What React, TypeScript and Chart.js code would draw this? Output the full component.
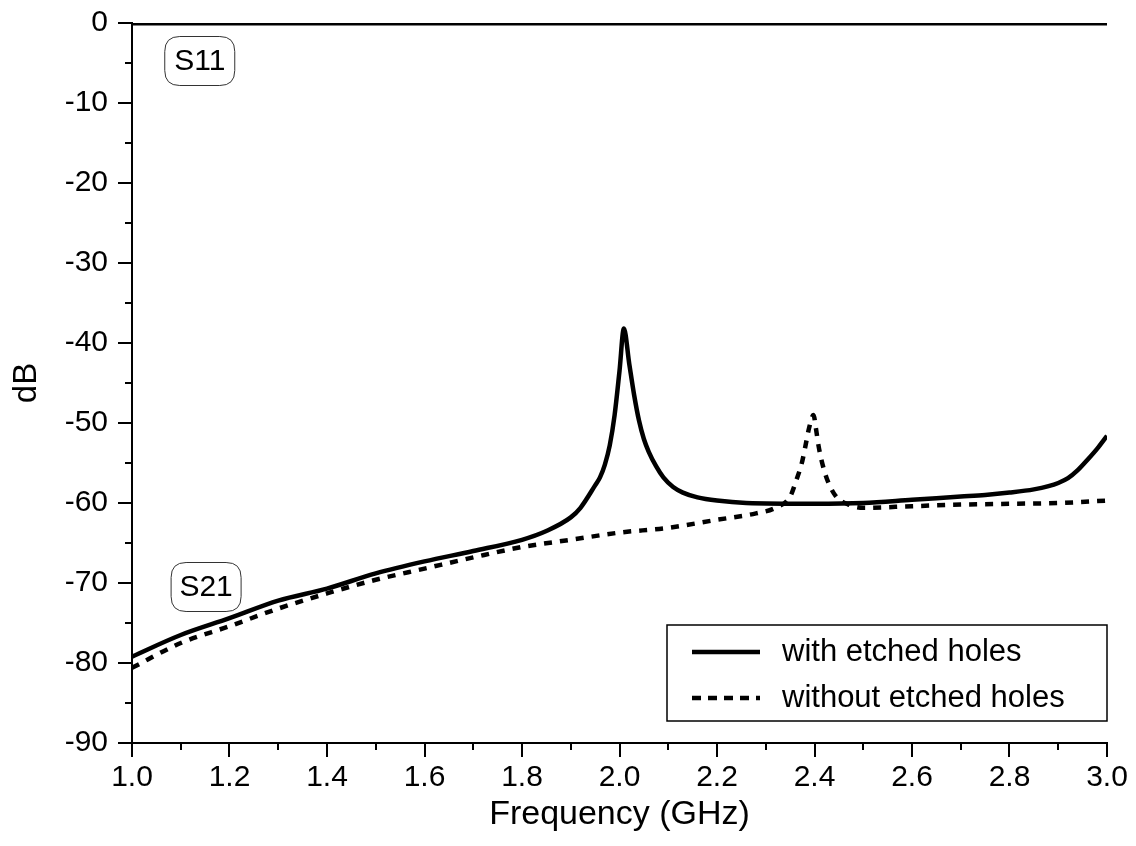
import React, { useEffect, useRef } from 'react';
import { Chart, registerables } from 'chart.js';

Chart.register(...registerables);

// Frequency (GHz) and S21 (dB) – with etched holes
const freqWith = [1.0, 1.1, 1.2, 1.3, 1.4, 1.5, 1.6, 1.7, 1.8, 1.85, 1.9, 1.92, 1.95, 1.96, 1.97, 1.98, 1.99, 2.0, 2.009, 2.02, 2.03, 2.04, 2.05, 2.06, 2.075, 2.09, 2.11, 2.13, 2.16, 2.2, 2.26, 2.4, 2.5, 2.6, 2.7, 2.75, 2.8, 2.85, 2.88, 2.9, 2.92, 2.94, 2.96, 2.98, 3.0];
const s21With = [-79.2, -76.5, -74.4, -72.2, -70.7, -68.8, -67.3, -66.0, -64.6, -63.5, -61.8, -60.6, -57.8, -56.8, -55.2, -52.8, -49.0, -43.5, -38.2, -42.6, -46.5, -49.7, -52.0, -53.6, -55.4, -56.8, -58.0, -58.7, -59.3, -59.7, -60.0, -60.1, -60.0, -59.6, -59.2, -59.0, -58.7, -58.3, -57.9, -57.5, -56.9, -55.9, -54.6, -53.2, -51.6];

// Frequency (GHz) and S21 (dB) – without etched holes
const freqWithout = [1.0, 1.1, 1.2, 1.3, 1.4, 1.5, 1.6, 1.7, 1.8, 1.9, 2.0, 2.1, 2.2, 2.28, 2.32, 2.35, 2.363, 2.374, 2.381, 2.389, 2.398, 2.403, 2.408, 2.415, 2.425, 2.442, 2.47, 2.5, 2.6, 2.7, 2.8, 2.9, 3.0];
const s21Without = [-80.6, -77.5, -75.4, -73.2, -71.3, -69.6, -68.2, -66.8, -65.5, -64.6, -63.7, -63.1, -62.1, -61.3, -60.6, -59.2, -57.1, -55.0, -53.0, -50.6, -49.0, -50.7, -52.75, -54.8, -56.9, -59.0, -60.2, -60.6, -60.4, -60.2, -60.1, -60.0, -59.7];

// S11 (dB)
const freqS11 = [1.0, 1.5, 2.0, 2.5, 3.0];
const s11 = [0, 0, 0, 0, 0];

// Axis ticks
const xMajorTicks = [1.0, 1.2, 1.4, 1.6, 1.8, 2.0, 2.2, 2.4, 2.6, 2.8, 3.0];
const xMinorTicks = [1.1, 1.3, 1.5, 1.7, 1.9, 2.1, 2.3, 2.5, 2.7, 2.9];
const yMinorTicks = [-85, -75, -65, -55, -45, -35, -25, -15, -5];

const legendLabels = ['with etched holes', 'without etched holes'];
const calloutLabels = ['S11', 'S21'];
const calloutFreq = [1.139, 1.152];
const calloutDb = [-4.75, -70.5];

const FONT = '"Liberation Sans", Arial, sans-serif';

const toPts = (xs: number[], ys: number[]) => xs.map((x, i) => ({ x, y: ys[i] }));

const minorTicksPlugin = {
  id: 'minorTicks',
  afterDraw(chart: any) {
    const { ctx, scales, chartArea } = chart;
    const xs = scales.x;
    const ys = scales.y;
    ctx.save();
    ctx.strokeStyle = '#000';
    ctx.lineWidth = 2;
    ctx.beginPath();
    yMinorTicks.forEach((v) => {
      const py = Math.round(ys.getPixelForValue(v));
      ctx.moveTo(chartArea.left - 7, py);
      ctx.lineTo(chartArea.left, py);
    });
    xMinorTicks.forEach((v) => {
      const px = Math.round(xs.getPixelForValue(v));
      ctx.moveTo(px, chartArea.bottom);
      ctx.lineTo(px, chartArea.bottom + 7);
    });
    ctx.stroke();
    ctx.restore();
  },
};

const roundRect = (ctx: CanvasRenderingContext2D, x: number, y: number, w: number, h: number, r: number) => {
  ctx.beginPath();
  ctx.moveTo(x + r, y);
  ctx.lineTo(x + w - r, y);
  ctx.quadraticCurveTo(x + w, y, x + w, y + r);
  ctx.lineTo(x + w, y + h - r);
  ctx.quadraticCurveTo(x + w, y + h, x + w - r, y + h);
  ctx.lineTo(x + r, y + h);
  ctx.quadraticCurveTo(x, y + h, x, y + h - r);
  ctx.lineTo(x, y + r);
  ctx.quadraticCurveTo(x, y, x + r, y);
  ctx.closePath();
};

const calloutPlugin = {
  id: 'callouts',
  afterDraw(chart: any) {
    const { ctx, scales } = chart;
    ctx.save();
    ctx.font = `30px ${FONT}`;
    ctx.textAlign = 'center';
    ctx.textBaseline = 'middle';
    calloutLabels.forEach((label, i) => {
      const cx = scales.x.getPixelForValue(calloutFreq[i]);
      const cy = scales.y.getPixelForValue(calloutDb[i]);
      const w = 70;
      const h = 49;
      roundRect(ctx, cx - w / 2, cy - h / 2, w, h, 15);
      ctx.fillStyle = '#fff';
      ctx.fill();
      ctx.strokeStyle = '#333';
      ctx.lineWidth = 1;
      ctx.stroke();
      ctx.fillStyle = '#000';
      ctx.fillText(label, cx, cy + 1);
    });
    ctx.restore();
  },
};

const legendPlugin = {
  id: 'customLegend',
  afterDraw(chart: any) {
    const { ctx, chartArea } = chart;
    const w = 440;
    const h = 96;
    const x0 = chartArea.right - w;
    const y0 = chartArea.bottom - 22 - h;
    ctx.save();
    ctx.fillStyle = '#fff';
    ctx.fillRect(x0, y0, w, h);
    ctx.strokeStyle = '#000';
    ctx.lineWidth = 1.5;
    ctx.strokeRect(x0, y0, w, h);
    const rows = [y0 + 27, y0 + 73];
    legendLabels.forEach((label, i) => {
      ctx.beginPath();
      ctx.lineWidth = 4.5;
      ctx.setLineDash(i === 0 ? [] : [9, 7]);
      ctx.moveTo(x0 + 25, rows[i]);
      ctx.lineTo(x0 + 93, rows[i]);
      ctx.stroke();
      ctx.setLineDash([]);
      ctx.fillStyle = '#000';
      ctx.font = `31px ${FONT}`;
      ctx.textAlign = 'left';
      ctx.textBaseline = 'middle';
      ctx.fillText(label, x0 + 115, rows[i]);
    });
    ctx.restore();
  },
};

export default function App() {
  const canvasRef = useRef<HTMLCanvasElement | null>(null);

  useEffect(() => {
    if (!canvasRef.current) return;
    const lineStyle = {
      borderColor: '#000',
      backgroundColor: '#000',
      borderWidth: 4.5,
      pointRadius: 0,
      fill: false,
      cubicInterpolationMode: 'monotone' as const,
    };
    const chart = new Chart(canvasRef.current, {
      type: 'line',
      data: {
        datasets: [
          { ...lineStyle, label: 'S11', data: toPts(freqS11, s11), borderWidth: 5 },
          { ...lineStyle, label: legendLabels[0], data: toPts(freqWith, s21With) },
          { ...lineStyle, label: legendLabels[1], data: toPts(freqWithout, s21Without), borderDash: [8, 8] },
        ],
      },
      options: {
        animation: false,
        responsive: true,
        maintainAspectRatio: false,
        layout: { padding: { left: 0, top: 23, right: 29, bottom: 0 } },
        plugins: {
          legend: { display: false },
          tooltip: { enabled: false },
        },
        scales: {
          x: {
            type: 'linear',
            min: 1,
            max: 3,
            afterFit: (s: any) => { s.height = 103; s.paddingRight = 0; s.paddingLeft = 0; },
            afterBuildTicks: (s: any) => { s.ticks = xMajorTicks.map((v) => ({ value: v })); },
            border: { display: true, color: '#000', width: 2 },
            grid: { display: true, drawOnChartArea: false, drawTicks: true, tickLength: 14, color: '#000', lineWidth: 2 },
            ticks: {
              color: '#000',
              font: { family: FONT, size: 30 },
              padding: 3,
              maxRotation: 0,
              callback: (v: any) => Number(v).toFixed(1),
            },
            title: {
              display: true,
              text: 'Frequency (GHz)',
              color: '#000',
              font: { family: FONT, size: 34 },
              padding: { top: 0, bottom: 11 },
            },
          },
          y: {
            min: -90,
            max: 0,
            afterFit: (s: any) => { s.width = 132; s.paddingTop = 0; s.paddingBottom = 0; },
            border: { display: true, color: '#000', width: 2 },
            grid: { display: true, drawOnChartArea: false, drawTicks: true, tickLength: 14, color: '#000', lineWidth: 2 },
            ticks: {
              stepSize: 10,
              color: '#000',
              font: { family: FONT, size: 30 },
              padding: 10,
              callback: (v: any) => String(v),
            },
            title: {
              display: true,
              text: 'dB',
              color: '#000',
              font: { family: FONT, size: 33 },
              padding: { top: 7, bottom: 0 },
            },
          },
        },
      },
      plugins: [minorTicksPlugin, calloutPlugin, legendPlugin],
    });
    return () => chart.destroy();
  }, []);

  return (
    <div style={{ position: 'fixed', left: 0, top: 0, width: 1136, height: 846, background: '#fff' }}>
      <canvas ref={canvasRef} />
    </div>
  );
}
